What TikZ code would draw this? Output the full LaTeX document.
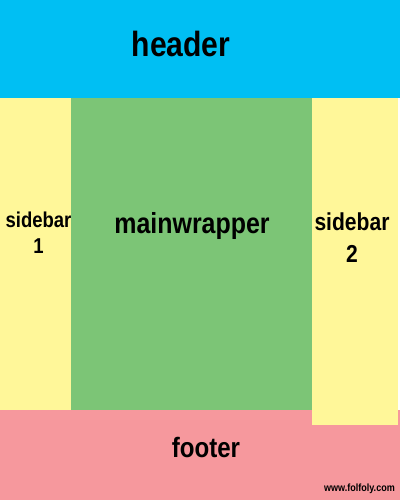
\documentclass[tikz,border=0pt]{standalone}
\usepackage{fontspec}
\newfontfamily\boxfont[FakeStretch=0.86]{Liberation Sans}
\usetikzlibrary{positioning}
\definecolor{hdcyan}{HTML}{00BFF3}
\definecolor{sbyellow}{HTML}{FFF799}
\definecolor{mwgreen}{HTML}{7CC576}
\definecolor{ftpink}{HTML}{F6989D}
\tikzset{region/.style={inner sep=0pt, outer sep=0pt, anchor=north west},
         boxtext/.style={inner sep=0pt, text=black, font=\boxfont\bfseries}}
\begin{document}
\begin{tikzpicture}[x=1pt,y=-1pt]
\useasboundingbox (0,0) rectangle (400,500);
                    \node (footer) [region, fill=ftpink, minimum width=400pt, minimum height=90pt] at (0,410) {};
                    \node (header) [region, fill=hdcyan, minimum width=400pt, minimum height=98pt] at (0,0) {};
                    \node (sidebarone) [region, fill=sbyellow, minimum width=71pt, minimum height=312pt] at (0,98) {};
                    \node (mainwrapper) [region, fill=mwgreen, minimum width=241pt, minimum height=312pt] at (71,98) {};
                    \node (sidebartwo) [region, fill=sbyellow, minimum width=86pt, minimum height=327pt] at (312,98) {};
                    \node (hdlabel) [boxtext, anchor=base, font=\boxfont\bfseries\fontsize{35}{40}\selectfont] at (181,57) {header};
                    \node (mwlabel) [boxtext, anchor=base, font=\boxfont\bfseries\fontsize{29}{32}\selectfont] at (192,233) {mainwrapper};
                    \node (ftlabel) [boxtext, anchor=base, font=\boxfont\bfseries\fontsize{28}{32}\selectfont] at (206,457) {footer};
                    \node (sbonelabel) [boxtext, align=center, font=\boxfont\bfseries\fontsize{21.5}{26}\selectfont] at (38.5,233) {sidebar\\1\hspace{7pt}};
                    \node (sbtwolabel) [boxtext, align=center, font=\boxfont\bfseries\fontsize{24.5}{32}\selectfont] at (352,237.5) {sidebar\\2};
                    \node (weblabel) [boxtext, anchor=base east, font=\boxfont\bfseries\fontsize{10.5}{12}\selectfont] at (395,491) {www.folfoly.com};
\end{tikzpicture}
\end{document}
